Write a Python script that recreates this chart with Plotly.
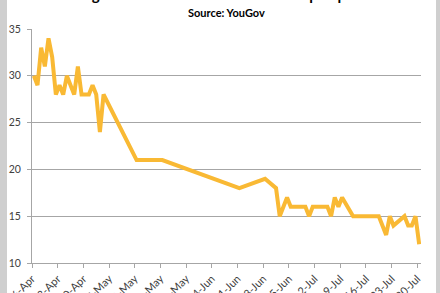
import plotly.graph_objects as go
import pandas as pd

dates = ["2010-04-16", "2010-04-17", "2010-04-18", "2010-04-19", "2010-04-20", "2010-04-21",
         "2010-04-22", "2010-04-23", "2010-04-24", "2010-04-25", "2010-04-26", "2010-04-27",
         "2010-04-28", "2010-04-29", "2010-04-30", "2010-05-01", "2010-05-02", "2010-05-03",
         "2010-05-04", "2010-05-05", "2010-05-14", "2010-05-21", "2010-06-11", "2010-06-18",
         "2010-06-21", "2010-06-22", "2010-06-24", "2010-06-25", "2010-06-29", "2010-06-30",
         "2010-07-01", "2010-07-05", "2010-07-06", "2010-07-07", "2010-07-08", "2010-07-09",
         "2010-07-12", "2010-07-19", "2010-07-21", "2010-07-22", "2010-07-23", "2010-07-26",
         "2010-07-27", "2010-07-28", "2010-07-29", "2010-07-30"]
libdem = [30, 29, 33, 31, 34, 32,
          28, 29, 28, 30, 29, 28,
          31, 28, 28, 28, 29, 28,
          24, 28, 21, 21, 18, 19,
          18, 15, 17, 16, 16, 15,
          16, 16, 15, 17, 16, 17,
          15, 15, 13, 15, 14, 15,
          14, 14, 15, 12]

title_text = "Going down: the slide in the Lib Dem poll position"
subtitle_text = "Source: YouGov"
y_ticks = [10, 15, 20, 25, 30, 35]

W, H = 440, 293
L, R, T, B = 32, 19, 29, 30
pw, ph = W - L - R, H - T - B

def px(x):
    return (x - L) / pw

def py(y):
    return (H - B - y) / ph

# each day's value is drawn in the middle of its day slot (Excel "between tick marks")
x_mid = pd.to_datetime(dates) + pd.Timedelta(hours=12)

fig = go.Figure()
fig.add_trace(go.Scatter(
    x=x_mid, y=libdem, mode="lines",
    line=dict(color="#F9B934", width=4, shape="linear"),
    showlegend=False, hoverinfo="skip"))

fig.update_layout(
    width=W, height=H,
    margin=dict(l=L, r=R, t=T, b=B, autoexpand=False),
    paper_bgcolor="white", plot_bgcolor="white",
    font=dict(family="Lato", color="#404040", size=10),
    xaxis=dict(
        type="date", range=["2010-04-16", "2010-07-31"],
        tick0="2010-04-16", dtick=7 * 24 * 3600 * 1000,
        tickformat="%-d-%b", tickangle=-45, automargin=False,
        showgrid=False, showline=True, linecolor="#a6a6a6", linewidth=1,
        ticks="outside", ticklen=4, tickcolor="#a6a6a6",
        ticklabelstandoff=0,
        tickfont=dict(size=11, color="#404040"), zeroline=False),
    yaxis=dict(
        range=[10, 35], tickvals=y_ticks, automargin=False,
        showgrid=True, gridcolor="#a6a6a6", gridwidth=1,
        showline=True, linecolor="#a6a6a6", linewidth=1,
        ticks="outside", ticklen=4, tickcolor="#a6a6a6",
        ticklabelstandoff=4,
        tickfont=dict(size=10.5, color="#404040"), zeroline=False),
    annotations=[
        dict(text="<b>" + title_text + "</b>", xref="paper", yref="paper",
             x=px(226), y=py(-6), xanchor="center", yanchor="middle",
             showarrow=False, font=dict(size=15, color="#000000", family="Lato")),
        dict(text="<b>" + subtitle_text + "</b>", xref="paper", yref="paper",
             x=px(226), y=py(12), xanchor="center", yanchor="middle",
             showarrow=False, font=dict(size=11, color="#000000", family="Lato")),
    ],
    shapes=[
        dict(type="rect", xref="paper", yref="paper", x0=px(0), x1=px(7),
             y0=py(H), y1=py(0), fillcolor="#cfcfcf", line=dict(width=0), layer="above"),
        dict(type="rect", xref="paper", yref="paper", x0=px(436), x1=px(440),
             y0=py(H), y1=py(0), fillcolor="#cfcfcf", line=dict(width=0), layer="above"),
    ],
)

fig.write_html("out.html")
